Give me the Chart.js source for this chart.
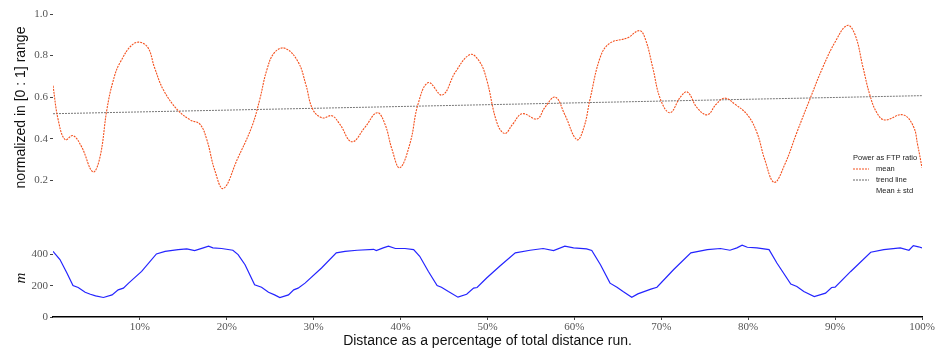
<!DOCTYPE html>
<html>
<head>
<meta charset="utf-8">
<script src="https://cdn.jsdelivr.net/npm/chart.js@4.4.1/dist/chart.umd.min.js"></script>
<style>
  body { margin: 0; background: #fff; }
  #wrap { position: relative; width: 939px; height: 352px; }
  #top { position: absolute; left: 0; top: 0; }
  #bottom { position: absolute; left: 0; top: 215px; }
</style>
</head>
<body>
<div id="wrap">
  <canvas id="top" width="939" height="215"></canvas>
  <canvas id="bottom" width="939" height="137"></canvas>
</div>
<script>
// Potencia normalizada (media) a lo largo del recorrido, en % de distancia
const meanPct = [0, 0.6, 1.4, 2.3, 3.3, 4.6, 5.4, 6.2, 6.9, 7.7, 9.4, 10.8, 11.7, 12.7, 14.3, 15.8, 16.9, 17.7, 18.6, 19.6,
  21.2, 22.9, 23.8, 24.6, 25.5, 26.7, 28.2, 29.1, 29.9, 31.0, 32.1, 33.0, 34.4, 35.9, 37.3, 38.2, 39.0, 39.9,
  41.1, 42.0, 43.2, 44.8, 46.3, 48.0, 49.1, 49.9, 51.1, 52.0, 52.9, 54.0, 55.7, 56.6, 57.8, 58.9, 60.3, 61.1,
  61.8, 63.0, 64.1, 66.1, 67.5, 68.2, 69.0, 69.9, 71.0, 72.2, 73.0, 74.1, 75.3, 76.3, 77.3, 78.5, 79.9, 81.0,
  81.9, 83.0, 84.2, 85.6, 87.1, 88.6, 90.0, 91.4, 92.3, 93.2, 94.0, 94.8, 95.7, 97.8, 99.0, 99.5, 100];
const meanVal = [0.655, 0.49, 0.395, 0.415, 0.36, 0.24, 0.31, 0.54, 0.675, 0.765, 0.86, 0.845, 0.74, 0.635, 0.54, 0.49, 0.47, 0.395, 0.25, 0.16,
  0.30, 0.46, 0.59, 0.73, 0.815, 0.835, 0.77, 0.66, 0.54, 0.50, 0.51, 0.47, 0.385, 0.455, 0.525, 0.47, 0.35, 0.26,
  0.38, 0.565, 0.67, 0.61, 0.72, 0.805, 0.77, 0.685, 0.475, 0.425, 0.47, 0.52, 0.495, 0.55, 0.60, 0.515, 0.395, 0.455,
  0.59, 0.795, 0.86, 0.885, 0.92, 0.875, 0.745, 0.59, 0.525, 0.60, 0.625, 0.55, 0.515, 0.565, 0.595, 0.565, 0.515, 0.43,
  0.30, 0.19, 0.275, 0.43, 0.59, 0.745, 0.865, 0.945, 0.90, 0.745, 0.61, 0.525, 0.49, 0.515, 0.46, 0.37, 0.26];

// Línea de tendencia
const trendPct = [0, 100];
const trendVal = [0.52, 0.607];

// Perfil de altitud (m)
const elevPct = [0, 0.8, 1.6, 2.3, 2.9, 3.7, 4.3, 4.9, 5.8, 6.8, 7.5, 8.1, 8.7, 10.2, 11.9, 12.9, 14.4, 15.4, 16.3, 17.3,
  17.9, 18.4, 19.4, 20.7, 21.3, 22.1, 23.2, 24.0, 24.8, 25.5, 26.1, 27.1, 27.7, 28.2, 29.0, 30.9, 32.6, 33.6,
  35.0, 36.9, 37.2, 38.0, 38.6, 39.4, 40.5, 41.5, 42.2, 43.2, 44.2, 44.7, 45.5, 46.6, 47.6, 48.4, 48.8, 49.9,
  51.4, 53.2, 54.9, 56.4, 57.6, 58.9, 59.9, 61.4, 62.0, 63.0, 64.1, 64.9, 65.6, 66.6, 67.3, 68.8, 69.5, 71.4,
  73.4, 75.3, 76.8, 77.9, 78.7, 79.3, 79.9, 81.0, 82.4, 83.3, 84.9, 85.6, 86.4, 87.6, 88.9, 89.6, 90.0, 91.8,
  94.1, 95.6, 97.5, 98.5, 99.0, 99.6, 100];
const elevVal = [421, 368, 282, 202, 189, 159, 146, 135, 125, 142, 174, 185, 217, 292, 404, 421, 432, 437, 426, 443,
  454, 443, 439, 428, 400, 335, 206, 191, 159, 142, 125, 142, 174, 185, 217, 314, 411, 421,
  428, 434, 426, 443, 454, 439, 439, 432, 389, 292, 202, 191, 163, 127, 146, 185, 189, 250,
  325, 411, 428, 439, 426, 454, 443, 437, 426, 335, 217, 191, 163, 127, 148, 179, 191, 303,
  411, 432, 439, 428, 443, 460, 447, 443, 432, 346, 211, 196, 163, 131, 153, 189, 191, 292,
  415, 432, 443, 428, 458, 450, 443];

const topYTicks = [0.2, 0.4, 0.6, 0.8, 1.0];
const bottomYTicks = [0, 200, 400];
const xTicks = [10, 20, 30, 40, 50, 60, 70, 80, 90, 100];

const pts = (xs, ys) => xs.map((x, i) => ({ x, y: ys[i] }));

const tickFont = { family: 'Liberation Serif', size: 11 };
const titleFont = { family: 'Liberation Sans', size: 14 };

const legendBox = {
  id: 'legendBox',
  afterDraw(chart) {
    const c = chart.ctx;
    c.save();
    c.font = '7.5px Liberation Sans';
    c.fillStyle = '#222';
    c.textBaseline = 'middle';
    c.fillText('Power as FTP ratio', 853, 158);
    const rows = [
      { txt: 'mean', color: '#f4511e', dash: [2, 1] },
      { txt: 'trend line', color: '#666', dash: [2, 1] },
      { txt: 'Mean \u00b1 std', color: null }
    ];
    rows.forEach((r, i) => {
      const y = 169 + i * 11;
      if (r.color) {
        c.strokeStyle = r.color;
        c.lineWidth = 1;
        c.setLineDash(r.dash);
        c.beginPath();
        c.moveTo(853, y);
        c.lineTo(869, y);
        c.stroke();
      }
      c.fillText(r.txt, 876, y);
    });
    c.restore();
  }
};

new Chart(document.getElementById('top'), {
  type: 'line',
  data: {
    datasets: [{
      label: 'mean',
      data: pts(meanPct, meanVal),
      borderColor: '#f4511e',
      borderWidth: 1.1,
      borderDash: [2, 1],
      pointRadius: 0,
      tension: 0.4
    }, {
      label: 'trend line',
      data: pts(trendPct, trendVal),
      borderColor: '#777',
      borderWidth: 1,
      borderDash: [2, 1],
      pointRadius: 0
    }]
  },
  options: {
    responsive: false,
    animation: false,
    layout: { padding: { top: 14, right: 17, bottom: 14, left: 0 } },
    plugins: { legend: { display: false }, tooltip: { enabled: false } },
    scales: {
      x: { type: 'linear', min: 0, max: 100, display: false },
      y: {
        min: 0.1, max: 1.0,
        afterBuildTicks: axis => { axis.ticks = topYTicks.map(v => ({ value: v })); },
        afterFit: axis => { axis.width = 53; },
        border: { display: false },
        grid: { drawOnChartArea: false, drawTicks: true, tickLength: 3, color: '#444' },
        ticks: { font: tickFont, color: '#555', padding: 2, callback: v => v.toFixed(1) },
        title: { display: true, text: 'normalized in [0 : 1] range', font: titleFont, color: '#111', padding: { top: 13 } }
      }
    }
  },
  plugins: [legendBox]
});

new Chart(document.getElementById('bottom'), {
  type: 'line',
  data: {
    datasets: [{
      label: 'm',
      data: pts(elevPct, elevVal),
      borderColor: '#2424ff',
      borderWidth: 1.2,
      pointRadius: 0,
      tension: 0
    }]
  },
  options: {
    responsive: false,
    animation: false,
    layout: { padding: { top: 24, right: 17, bottom: 0, left: 0 } },
    plugins: { legend: { display: false }, tooltip: { enabled: false } },
    scales: {
      x: {
        type: 'linear', min: 0, max: 100,
        afterBuildTicks: axis => { axis.ticks = xTicks.map(v => ({ value: v })); },
        afterFit: axis => { axis.height = 35; },
        border: { display: true, color: '#000', width: 1.5 },
        grid: { drawOnChartArea: false, drawTicks: true, tickLength: 3, color: '#444' },
        ticks: { font: tickFont, color: '#555', padding: 1, maxRotation: 0, callback: v => v + '%' },
        title: { display: true, text: 'Distance as a percentage of total distance run.', font: titleFont, color: '#111', padding: { top: 0, bottom: 2 } }
      },
      y: {
        min: 0, max: 500,
        afterBuildTicks: axis => { axis.ticks = bottomYTicks.map(v => ({ value: v })); },
        afterFit: axis => { axis.width = 53; },
        border: { display: false },
        grid: { drawOnChartArea: false, drawTicks: true, tickLength: 3, color: '#444' },
        ticks: { font: tickFont, color: '#555', padding: 2 },
        title: { display: true, text: 'm', font: { family: 'Liberation Serif', size: 15, style: 'italic' }, color: '#111', padding: { top: 12 } }
      }
    }
  }
});
</script>
</body>
</html>
